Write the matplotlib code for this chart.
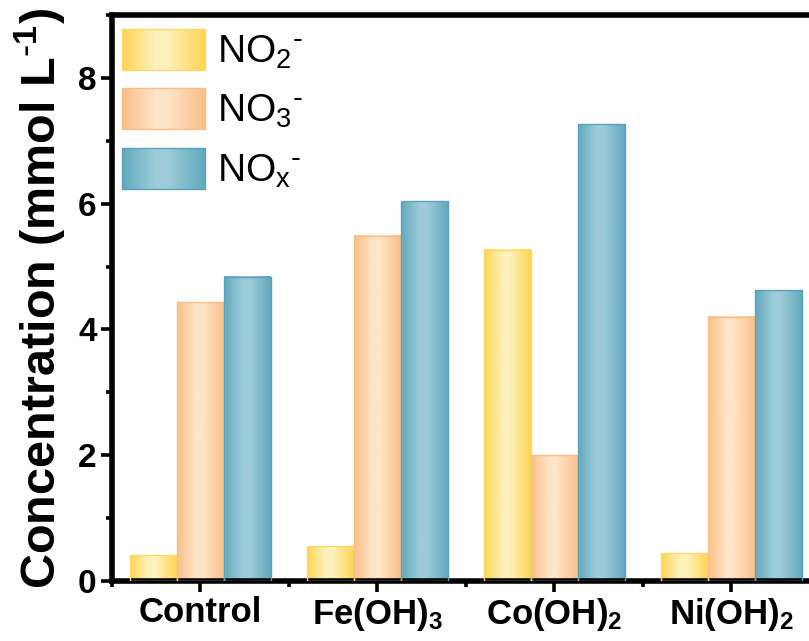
import matplotlib

matplotlib.use("Agg")
import matplotlib.pyplot as plt
import numpy as np
from matplotlib.colors import LinearSegmentedColormap
from matplotlib.image import BboxImage
from matplotlib.legend_handler import HandlerBase
from matplotlib.patches import Rectangle
from matplotlib.ticker import MultipleLocator
from matplotlib.transforms import Bbox, TransformedBbox


SAMPLES = ["Control", "Fe(OH)$_3$", "Co(OH)$_2$", "Ni(OH)$_2$"]
SERIES = ["NO$_2$$^{\\text{-}}$", "NO$_3$$^{\\text{-}}$", "NO$_x$$^{\\text{-}}$"]
NO2 = [0.41, 0.55, 5.27, 0.44]
NO3 = [4.43, 5.49, 2.00, 4.20]
NOX = [4.84, 6.04, 7.26, 4.62]

# (bord, centre, contour) pour le dégradé horizontal de chaque série
SHADES = [
    ("#FDD555", "#FEF2BC", "#FBD868"),
    ("#FBC088", "#FEE4C9", "#F9BE86"),
    ("#62A9BE", "#9DCCD8", "#5AA3B8"),
]
PROFILE = np.interp(np.linspace(0, 1, 64), [0.0, 0.4, 0.55, 1.0], [0.0, 1.0, 1.0, 0.0])

plt.rcParams.update({
    "font.family": ["Liberation Sans", "DejaVu Sans"],
    "mathtext.default": "regular",
    "axes.linewidth": 4.0,
})


class GradientHandler(HandlerBase):
    def __init__(self, cmap, edge):
        super().__init__()
        self.cmap = cmap
        self.edge = edge

    def create_artists(self, legend, orig_handle, xdescent, ydescent,
                       width, height, fontsize, trans):
        box = TransformedBbox(
            Bbox.from_bounds(-xdescent, -ydescent, width, height), trans)
        img = BboxImage(box, cmap=self.cmap, interpolation="bilinear")
        img.set_data(PROFILE[None, :])
        img.set_clim(0, 1)
        rect = Rectangle((-xdescent, -ydescent), width, height,
                         facecolor="none", edgecolor=self.edge, lw=1.0,
                         transform=trans)
        return [img, rect]


fig = plt.figure(figsize=(8.09, 6.41), dpi=100)
ax = fig.add_axes([0.1384, 0.0936, 0.875, 0.883])

x = np.arange(1, len(SAMPLES) + 1)
width = 0.265
cmaps = [LinearSegmentedColormap.from_list("g%d" % i, [s[0], s[1]])
         for i, s in enumerate(SHADES)]

proxies = []
handlers = {}
for j, values in enumerate([NO2, NO3, NOX]):
    edge_col = SHADES[j][2]
    bars = ax.bar(x + (j - 1) * width, values, width, facecolor="none",
                  edgecolor=edge_col, linewidth=1.0, zorder=3)
    for rect in bars:
        x0, y0 = rect.get_xy()
        ax.imshow(PROFILE[None, :], cmap=cmaps[j], vmin=0, vmax=1,
                  extent=(x0, x0 + rect.get_width(), y0, y0 + rect.get_height()),
                  aspect="auto", interpolation="bilinear", zorder=2)
    proxy = Rectangle((0, 0), 1, 1)
    proxies.append(proxy)
    handlers[proxy] = GradientHandler(cmaps[j], edge_col)

ax.set_aspect("auto")
ax.set_xlim(0.5, 4.5)
ax.set_ylim(0, 9)
ax.set_xticks(x)
ax.set_xticklabels(SAMPLES, fontsize=25, fontweight="bold")
ax.xaxis.set_minor_locator(MultipleLocator(1.0, offset=0.5))
ax.yaxis.set_major_locator(MultipleLocator(2))
ax.yaxis.set_minor_locator(MultipleLocator(1))
for lab in ax.get_yticklabels():
    lab.set_fontsize(24)
    lab.set_fontweight("bold")
ax.tick_params(which="major", direction="out", length=8, width=2.6, pad=3)
ax.tick_params(which="minor", direction="out", length=4, width=2.6)
ax.tick_params(top=False, right=False, which="both")

ax.set_ylabel("Concentration (mmol L$^{\\text{-}1}$)", fontsize=35,
              fontweight="bold", labelpad=7)

ax.legend(proxies, SERIES, handler_map=handlers, loc="upper left",
          bbox_to_anchor=(0.0, 0.993), frameon=False, fontsize=28,
          handlelength=2.13, handleheight=1.245, handletextpad=0.31,
          labelspacing=0.45, borderaxespad=0.26, borderpad=0.0)

fig.savefig("out.png", dpi=100, facecolor="white")
